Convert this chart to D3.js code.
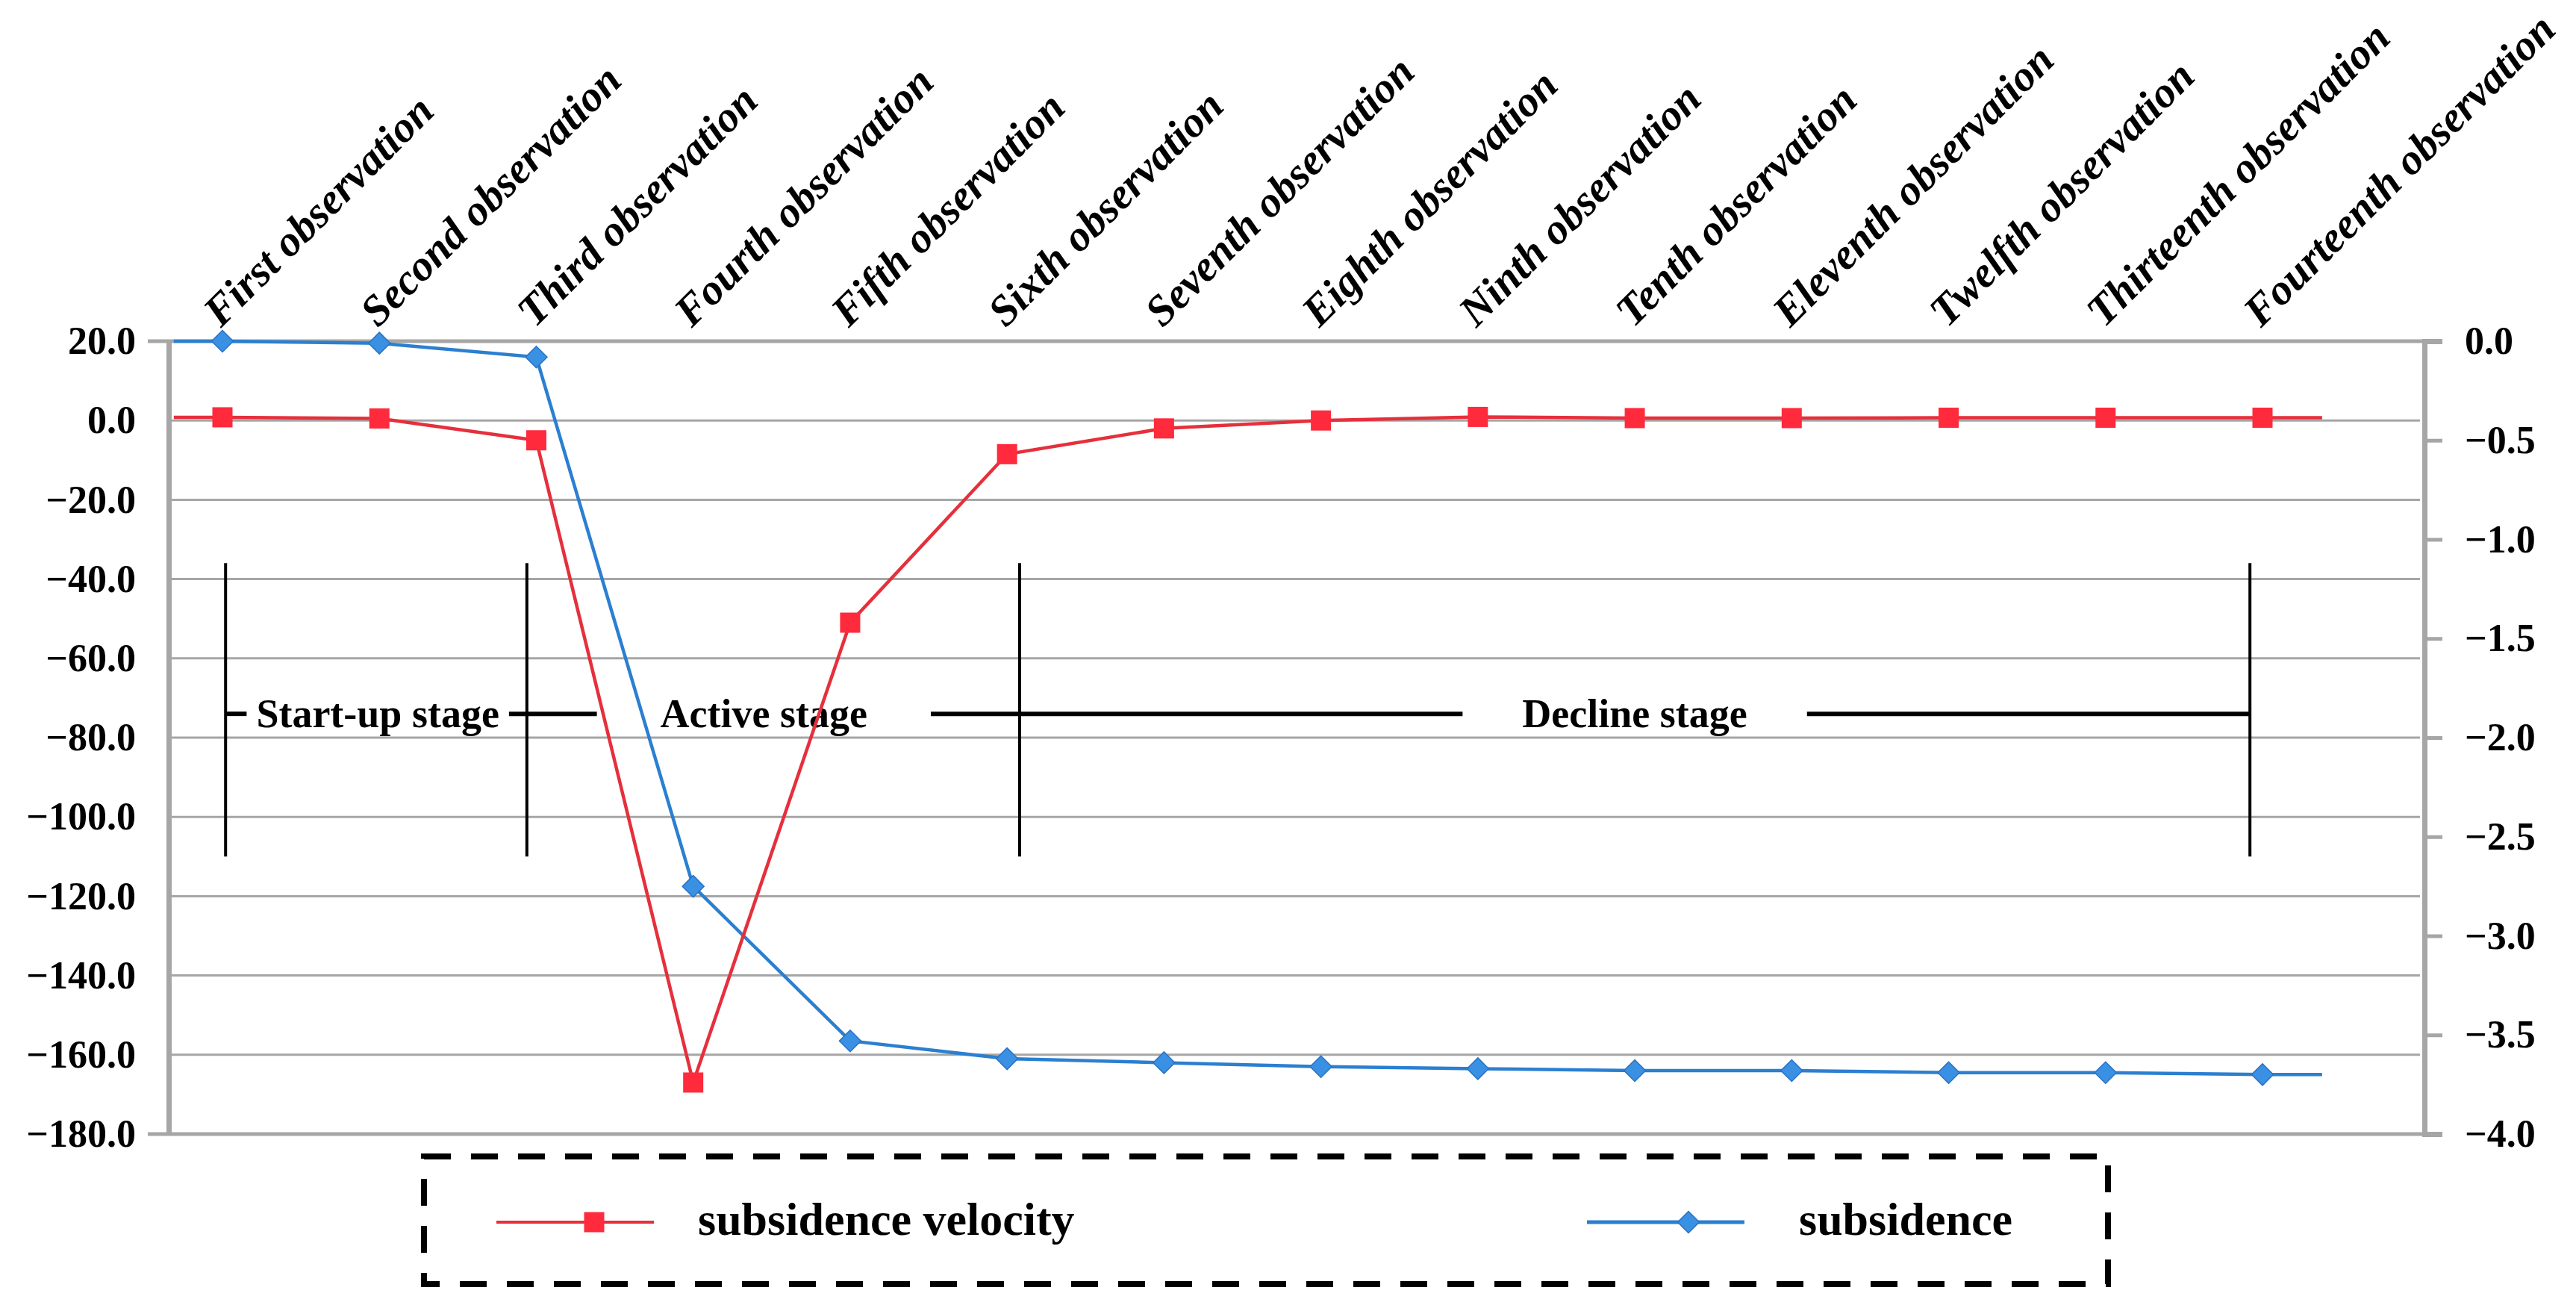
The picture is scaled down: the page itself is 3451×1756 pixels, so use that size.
<!DOCTYPE html>
<html>
<head>
<meta charset="utf-8">
<script src="https://cdn.jsdelivr.net/npm/d3@7"></script>
<style>
  html, body { margin: 0; padding: 0; background: #fff; }
  svg text { font-family: "Liberation Serif", "Times New Roman", serif; font-weight: bold; }
</style>
</head>
<body>
<svg id="chart" width="3451" height="1756"></svg>
<script>
// observation labels along the top
var categories = [
  'First observation', 'Second observation', 'Third observation', 'Fourth observation',
  'Fifth observation', 'Sixth observation', 'Seventh observation', 'Eighth observation',
  'Ninth observation', 'Tenth observation', 'Eleventh observation', 'Twelfth observation',
  'Thirteenth observation', 'Fourteenth observation'
]
// left axis series
var velocity = [0.8, 0.5, -5.0, -167.0, -51.0, -8.5, -2.0, 0.0, 0.9, 0.6, 0.6, 0.7, 0.7, 0.7]
// right axis series
var subsidence = [0.00, -0.01, -0.08, -2.75, -3.53, -3.62, -3.64, -3.66, -3.67, -3.68, -3.68, -3.69, -3.69, -3.70]

var leftTicks = [20, 0, -20, -40, -60, -80, -100, -120, -140, -160, -180]
var rightTicks = [0, -0.5, -1, -1.5, -2, -2.5, -3, -3.5, -4]

// stage brackets (category index units)
var stageNames = ['Start-up stage', 'Active stage', 'Decline stage']
var stageBounds = [0.02, 1.94, 5.08, 12.92]
var stageLabelAt = [0.99, 3.45, 9.0]

var seriesNames = ['subsidence velocity', 'subsidence']

var svg = d3.select('#chart')
var plotL = 226, plotR = 3248, plotT = 457, plotB = 1519
var RED = '#e5303c', RED_MK = '#ff2a3c', BLUE = '#2b7fd0', BLUE_MK = '#3a90e2', GRID = '#a6a6a6'

var x = d3.scaleLinear().domain([0, 13]).range([298, 3031])
var yL = d3.scaleLinear().domain([-180, 20]).range([plotB, plotT])
var yR = d3.scaleLinear().domain([-4, 0]).range([plotB, plotT])

// gridlines
svg.append('g')
  .selectAll('line')
  .data(leftTicks.slice(1, -1))
  .join('line')
  .attr('x1', plotL).attr('x2', plotR - 6)
  .attr('y1', function(d) { return yL(d) }).attr('y2', function(d) { return yL(d) })
  .attr('stroke', GRID).attr('stroke-width', 3)

// top and bottom border lines, extended out past both axes
svg.append('g')
  .selectAll('line')
  .data([20, -180])
  .join('line')
  .attr('x1', plotL - 28).attr('x2', plotR + 24)
  .attr('y1', function(d) { return yL(d) }).attr('y2', function(d) { return yL(d) })
  .attr('stroke', GRID).attr('stroke-width', 5)

// left axis
var axL = svg.append('g')
  .attr('transform', 'translate(' + plotL + ',0)')
  .call(d3.axisLeft(yL).tickValues(leftTicks).tickSize(0).tickPadding(44).tickFormat(d3.format('.1f')))
axL.select('.domain').attr('stroke', GRID).attr('stroke-width', 7)
axL.selectAll('text').attr('font-size', 52).attr('fill', '#000')
  .attr('font-family', '"Liberation Serif", serif').attr('font-weight', 'bold')

// right axis
var axR = svg.append('g')
  .attr('transform', 'translate(' + plotR + ',0)')
  .call(d3.axisRight(yR).tickValues(rightTicks).tickSize(24).tickPadding(30).tickFormat(d3.format('.1f')))
axR.select('.domain').attr('stroke', GRID).attr('stroke-width', 7)
axR.selectAll('line').attr('stroke', GRID).attr('stroke-width', 5)
axR.selectAll('text').attr('font-size', 52).attr('fill', '#000')
  .attr('font-family', '"Liberation Serif", serif').attr('font-weight', 'bold')

// category labels, rotated
svg.append('g')
  .selectAll('text')
  .data(categories)
  .join('text')
  .attr('transform', function(d, i) { return 'translate(' + (x(i) - 2) + ',440) rotate(-45)' })
  .attr('font-size', 58)
  .attr('font-style', 'italic')
  .attr('fill', '#000')
  .text(function(d) { return d })

// stage brackets
var stageTop = -36, stageMid = -74, stageBottom = -110
var stageGapPad = [13, 85, 80]
var brackets = svg.append('g')
brackets.selectAll('line.v')
  .data(stageBounds)
  .join('line')
  .attr('class', 'v')
  .attr('x1', function(d) { return x(d) }).attr('x2', function(d) { return x(d) })
  .attr('y1', yL(stageTop)).attr('y2', yL(stageBottom))
  .attr('stroke', '#000').attr('stroke-width', 4)

var labels = brackets.selectAll('text')
  .data(stageNames)
  .join('text')
  .attr('x', function(d, i) { return x(stageLabelAt[i]) })
  .attr('y', yL(stageMid) + 18)
  .attr('text-anchor', 'middle')
  .attr('font-size', 54)
  .attr('fill', '#000')
  .text(function(d) { return d })

// horizontal line broken around each label
var gaps = []
labels.each(function(d, i) {
  var b = this.getBBox()
  gaps.push([b.x - stageGapPad[i], b.x + b.width + stageGapPad[i]])
})
var segs = [], cur = x(stageBounds[0])
gaps.forEach(function(g) { segs.push([cur, g[0]]); cur = g[1] })
segs.push([cur, x(stageBounds[stageBounds.length - 1])])
brackets.selectAll('line.h')
  .data(segs)
  .join('line')
  .attr('class', 'h')
  .attr('x1', function(d) { return d[0] }).attr('x2', function(d) { return d[1] })
  .attr('y1', yL(stageMid)).attr('y2', yL(stageMid))
  .attr('stroke', '#000').attr('stroke-width', 6)

// series lines (run a little past the first and last observations)
function extended(vals) {
  var pts = vals.map(function(v, i) { return [i, v] })
  pts.unshift([-0.31, vals[0]])
  pts.push([13.38, vals[vals.length - 1]])
  return pts
}
var lineL = d3.line().x(function(d) { return x(d[0]) }).y(function(d) { return yL(d[1]) })
var lineR = d3.line().x(function(d) { return x(d[0]) }).y(function(d) { return yR(d[1]) })

svg.append('path').datum(extended(subsidence))
  .attr('d', lineR).attr('fill', 'none').attr('stroke', BLUE).attr('stroke-width', 4.5)
svg.append('path').datum(extended(velocity))
  .attr('d', lineL).attr('fill', 'none').attr('stroke', RED).attr('stroke-width', 4.5)

var square = d3.symbol().type(d3.symbolSquare).size(729)
var diamond = d3.symbol().type(d3.symbolSquare).size(420)

svg.append('g').selectAll('path')
  .data(subsidence)
  .join('path')
  .attr('d', diamond)
  .attr('transform', function(d, i) { return 'translate(' + x(i) + ',' + yR(d) + ') rotate(45)' })
  .attr('fill', BLUE_MK).attr('stroke', '#2a72c4').attr('stroke-width', 1.5)

svg.append('g').selectAll('path')
  .data(velocity)
  .join('path')
  .attr('d', square)
  .attr('transform', function(d, i) { return 'translate(' + x(i) + ',' + yL(d) + ')' })
  .attr('fill', RED_MK)

// legend
var lg = svg.append('g')
lg.append('rect')
  .attr('x', 568).attr('y', 1549).attr('width', 2256).attr('height', 171)
  .attr('fill', 'none').attr('stroke', '#000').attr('stroke-width', 8)
  .attr('stroke-dasharray', '36,27')

var legendY = 1637
lg.append('line').attr('x1', 665).attr('x2', 876).attr('y1', legendY).attr('y2', legendY)
  .attr('stroke', RED).attr('stroke-width', 4)
lg.append('path').attr('d', square).attr('transform', 'translate(796,' + legendY + ')').attr('fill', RED_MK)
lg.append('text').attr('x', 935).attr('y', legendY + 17).attr('font-size', 62).attr('fill', '#000')
  .text(seriesNames[0])

lg.append('line').attr('x1', 2126).attr('x2', 2337).attr('y1', legendY).attr('y2', legendY)
  .attr('stroke', BLUE).attr('stroke-width', 5)
lg.append('path').attr('d', diamond).attr('transform', 'translate(2262,' + legendY + ') rotate(45)')
  .attr('fill', BLUE_MK).attr('stroke', '#2a72c4').attr('stroke-width', 1.5)
lg.append('text').attr('x', 2410).attr('y', legendY + 17).attr('font-size', 62).attr('fill', '#000')
  .text(seriesNames[1])
</script>
</body>
</html>
